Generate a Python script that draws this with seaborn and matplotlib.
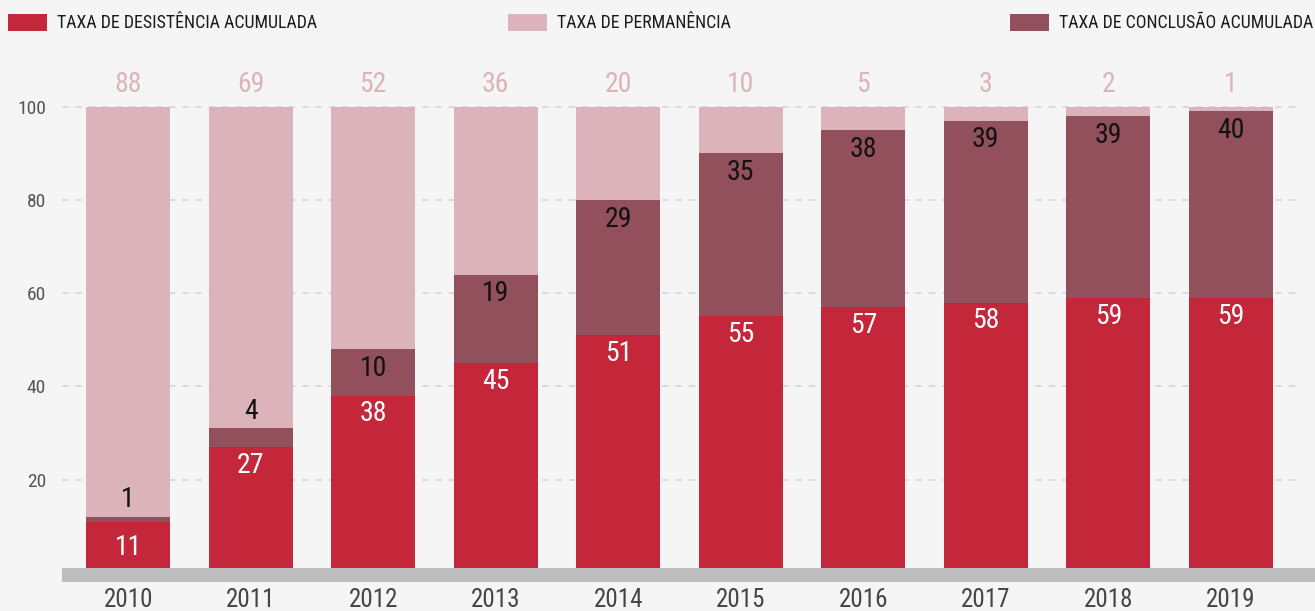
import matplotlib
matplotlib.use("Agg")
import matplotlib.pyplot as plt
import matplotlib.transforms as mtransforms
from matplotlib.patches import Rectangle
from matplotlib import font_manager
import seaborn as sns
import pandas as pd

years = ["2010", "2011", "2012", "2013", "2014", "2015", "2016", "2017", "2018", "2019"]
desistencia = [11, 27, 38, 45, 51, 55, 57, 58, 59, 59]
conclusao = [1, 4, 10, 19, 29, 35, 38, 39, 39, 40]
permanencia = [88, 69, 52, 36, 20, 10, 5, 3, 2, 1]
legend_labels = ["TAXA DE DESISTÊNCIA ACUMULADA", "TAXA DE PERMANÊNCIA", "TAXA DE CONCLUSÃO ACUMULADA"]
yticks = [20, 40, 60, 80, 100]

RED = "#c4263a"
MAUVE = "#924f5c"
PINK = "#dcb3ba"
BG = "#f5f5f5"

sns.set_theme(style="white")
names = {f.name for f in font_manager.fontManager.ttflist}
fam = [n for n in ["Roboto Condensed", "Liberation Sans Narrow", "Roboto", "DejaVu Sans"] if n in names]
plt.rcParams["font.family"] = fam

df = pd.DataFrame({"ano": years, "des": desistencia, "con": conclusao, "per": permanencia})
df["cum_dc"] = df["des"] + df["con"]
df["total"] = df["cum_dc"] + df["per"]

fig = plt.figure(figsize=(13.15, 6.11), dpi=100, facecolor=BG)
W, H = 1315, 611
ax = fig.add_axes([62 / W, (H - 582) / H, (1297 - 62) / W, (582 - 60) / H])
ax.set_facecolor("none")

bw = 0.686
kw = dict(saturation=1, width=bw, ax=ax, linewidth=0, edgecolor="none")
sns.barplot(data=df, x="ano", y="total", color=PINK, zorder=2, **kw)
sns.barplot(data=df, x="ano", y="cum_dc", color=MAUVE, zorder=3, **kw)
sns.barplot(data=df, x="ano", y="des", color=RED, zorder=4, **kw)

ax.set_xlim(-0.54, 9.54)
ax.set_ylim(-1.93, 110.0)
ax.set_yticks(yticks)
ax.set_yticklabels([str(t) for t in yticks])
ax.set_xlabel("")
ax.set_ylabel("")
for s in ax.spines.values():
    s.set_visible(False)

for t in yticks:
    ax.axhline(t, color="#d6d6d6", lw=1.2, ls=(0, (4, 4)), zorder=1)

ax.tick_params(axis="y", length=0, pad=11.5, labelsize=14, labelcolor="#555555")
ax.tick_params(axis="x", length=0, pad=4, labelsize=18, labelcolor="#444444")

trans = mtransforms.blended_transform_factory(ax.transAxes, ax.transData)
band = Rectangle((0, -1.93), (1315 - 62) / (1297 - 62), 1.93 + 1.07, transform=trans,
                 color="#bdbdbf", clip_on=False, zorder=6, lw=0)
ax.add_patch(band)

for i in range(len(years)):
    d = desistencia[i]
    c = conclusao[i]
    p = permanencia[i]
    y_d = d / 2 if d < 15 else d - 3.9
    ax.text(i, y_d, str(d), ha="center", va="center", color="white", fontsize=20, zorder=7)
    top_c = d + c
    y_c = top_c - 4.1 if c >= 8 else top_c + 3.7
    ax.text(i, y_c, str(c), ha="center", va="center", color="#111111", fontsize=20, zorder=7)
    ax.text(i, 100 + 4.7, str(p), ha="center", va="center", color=PINK, fontsize=20, zorder=7)

fig.canvas.draw()
renderer = fig.canvas.get_renderer()
legend_items = [(8, RED, legend_labels[0], 261), (508, PINK, legend_labels[1], 174),
                (1010, MAUVE, legend_labels[2], 254)]
for x0, col, lab, tw in legend_items:
    fig.patches.append(Rectangle((x0 / W, 1 - 31 / H), 39 / W, 17 / H, transform=fig.transFigure,
                                 color=col, lw=0))
    t = fig.text((x0 + 49) / W, 1 - 22.5 / H, lab, ha="left", va="center", fontsize=16, color="#1a1a1a")
    w = t.get_window_extent(renderer).width
    t.set_fontsize(min(17, 16 * tw / w))

fig.savefig("out.png", dpi=100, facecolor=BG)
